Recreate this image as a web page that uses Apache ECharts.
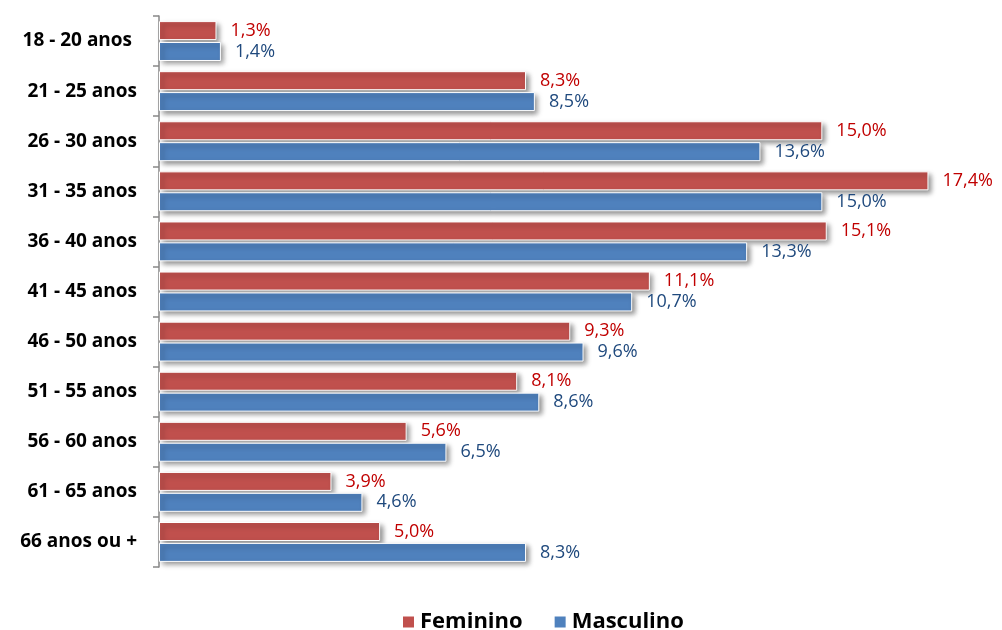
<!DOCTYPE html>
<html>
<head>
<meta charset="utf-8">
<script src="https://cdn.jsdelivr.net/npm/echarts@6/dist/echarts.min.js"></script>
<style>
  html, body { margin: 0; padding: 0; background: #fff; }
  #chart { width: 1002px; height: 630px; }
</style>
</head>
<body>
<div id="chart"></div>
<script>
// faixas etárias
var categories = ["18 - 20 anos ", "21 - 25 anos", "26 - 30 anos", "31 - 35 anos", "36 - 40 anos",
  "41 - 45 anos", "46 - 50 anos", "51 - 55 anos", "56 - 60 anos", "61 - 65 anos", "66 anos ou +"];
var feminino = [1.3, 8.3, 15.0, 17.4, 15.1, 11.1, 9.3, 8.1, 5.6, 3.9, 5.0];
var masculino = [1.4, 8.5, 13.6, 15.0, 13.3, 10.7, 9.6, 8.6, 6.5, 4.6, 8.3];

var fmt = function (p) {
  return p.value.toFixed(1).replace(".", ",") + "%";
};

var chart = echarts.init(document.getElementById("chart"));

function barSeries(name, data, color, labelColor) {
  return {
    name: name,
    type: "bar",
    data: data,
    barWidth: 19,
    barGap: "10%",
    itemStyle: {
      color: color,
      borderColor: "#fff",
      borderWidth: 1,
      shadowColor: "rgba(0,0,0,0.45)",
      shadowBlur: 5,
      shadowOffsetX: 3,
      shadowOffsetY: 3
    },
    label: {
      show: true,
      position: "right",
      distance: 14,
      formatter: fmt,
      color: labelColor,
      fontSize: 18,
      fontFamily: "Open Sans"
    }
  };
}

var option = {
  animation: false,
  grid: {
    left: 159,
    top: 16,
    width: 796,
    height: 551
  },
  legend: {
    top: 606,
    left: 396,
    itemWidth: 13,
    itemHeight: 13,
    itemGap: 30,
    icon: "rect",
    textStyle: {
      fontSize: 22,
      fontWeight: "bold",
      color: "#000",
      fontFamily: "Open Sans"
    },
    data: ["Feminino", "Masculino"]
  },
  xAxis: {
    type: "value",
    min: 0,
    max: 18,
    show: false
  },
  yAxis: {
    type: "category",
    inverse: true,
    data: categories,
    axisLine: { lineStyle: { color: "#888", width: 1.5 } },
    axisTick: { show: true, length: 6, lineStyle: { color: "#888", width: 1.5 } },
    axisLabel: {
      margin: 22,
      fontSize: 19,
      fontWeight: "bold",
      color: "#000",
      fontFamily: "Open Sans"
    }
  },
  series: [
    barSeries("Feminino", feminino, "#C0504D", "#C00000"),
    barSeries("Masculino", masculino, "#4F81BD", "#1F497D")
  ]
};

chart.setOption(option);
</script>
</body>
</html>
